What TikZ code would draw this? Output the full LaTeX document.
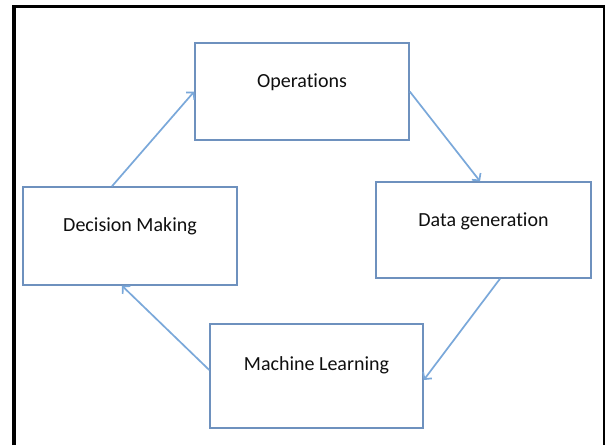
\documentclass[tikz,border=0pt]{standalone}
\usepackage{fontspec}
\setmainfont[Ligatures=NoCommon]{Carlito}
\usetikzlibrary{arrows.meta}
\definecolor{boxcol}{RGB}{110,145,190}
\definecolor{arrcol}{RGB}{122,168,218}
\definecolor{txtcol}{RGB}{15,15,15}
\begin{document}
\begin{tikzpicture}[x=1pt,y=-1pt,
  stepbox/.style={draw=boxcol,line width=1.5pt,fill=white,inner sep=0pt},
  steptext/.style={text=txtcol,font=\fontsize{20}{24}\selectfont,inner sep=0pt},
  flow/.style={draw=arrcol,line width=1.7pt,-{Straight Barb[length=5pt,width=11pt]}}]
\useasboundingbox (0,0) rectangle (608,445);
\fill[white] (0,0) rectangle (608,445);
% outer frame, open at the bottom
\draw[line width=4pt] (14,445) -- (14,6.5);
\draw[line width=3pt] (12,6.5) -- (605,6.5);
\draw[line width=2pt] (604,5) -- (604,445);
% process steps
\node[stepbox,minimum width=214pt,minimum height=97pt] (ops) at (302,91.5) {};
\node[stepbox,minimum width=215pt,minimum height=96pt] (data) at (483.5,230) {};
\node[stepbox,minimum width=213pt,minimum height=104pt] (ml) at (316.5,376) {};
\node[stepbox,minimum width=214pt,minimum height=98pt] (dec) at (130,236) {};
\node[steptext] (opst) at ([yshift=9.5]ops.center) {Operations};
\node[steptext] (datat) at ([yshift=9]data.center) {Data generation};
\node[steptext] (mlt) at ([yshift=11]ml.center) {Machine Learning};
\node[steptext] (dect) at ([yshift=10]dec.center) {Decision Making};
% cycle connectors
\draw[flow] ([xshift=-18]dec.north) -- (ops.west);
\draw[flow] (ops.east) -- ([xshift=-3.5]data.north);
\draw[flow] ([xshift=16.5]data.south) -- ([yshift=-4]ml.east);
\draw[flow] ([yshift=6]ml.west) -- ([xshift=-8]dec.south);
\end{tikzpicture}
\end{document}
